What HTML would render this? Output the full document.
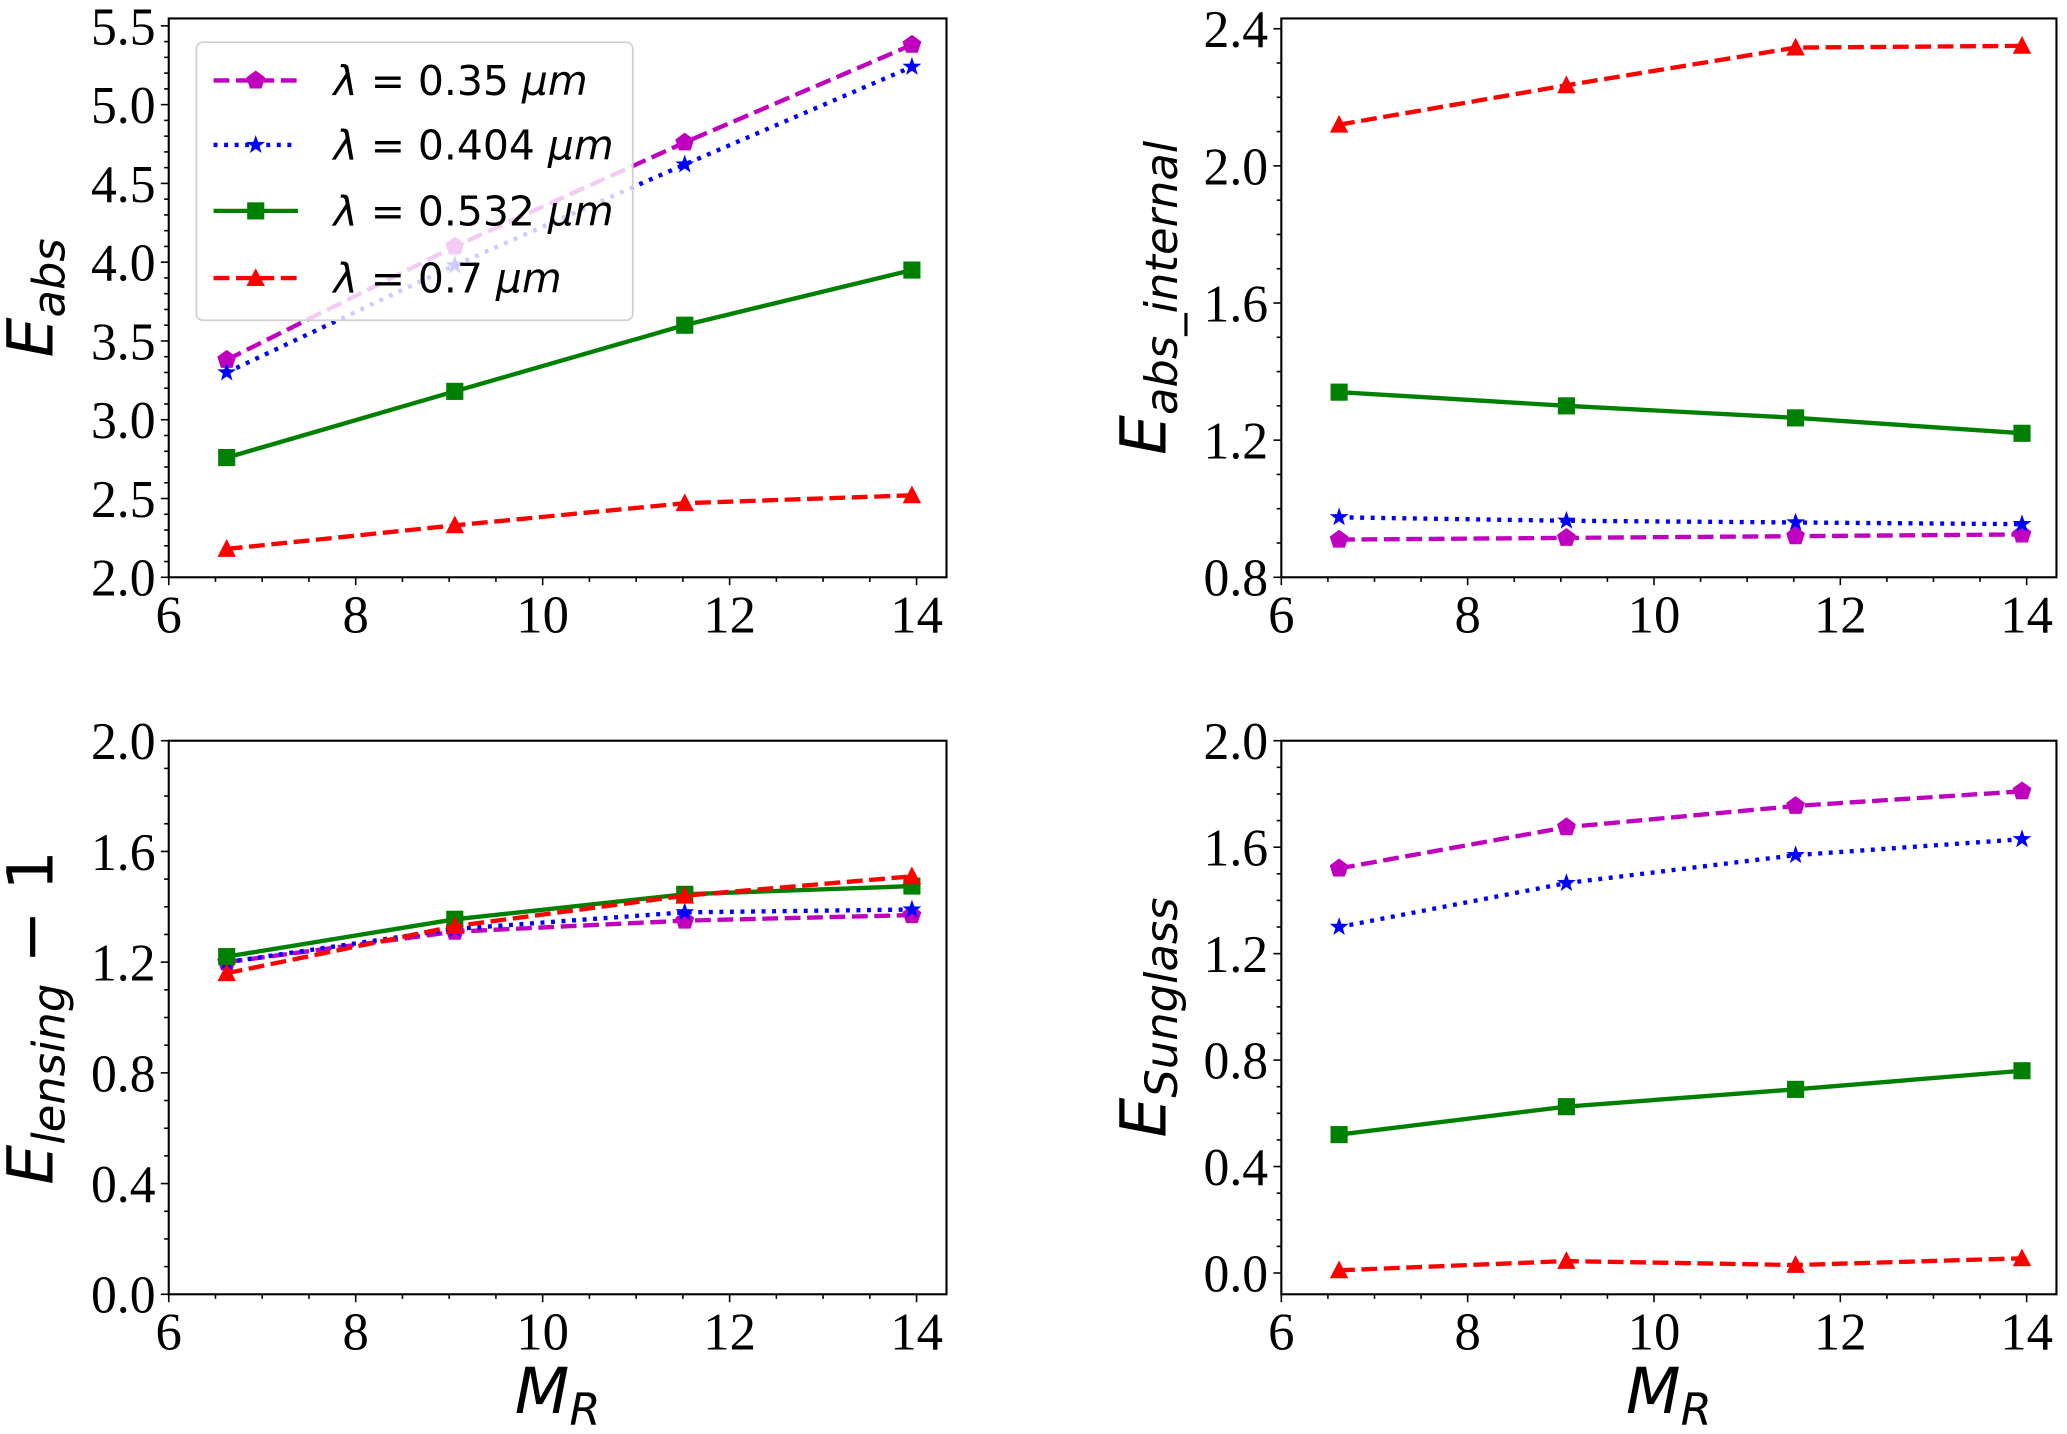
<!DOCTYPE html>
<html><head><meta charset="utf-8"><style>
html,body{margin:0;padding:0;background:#fff}
svg{display:block}
.tk{font-family:"Liberation Serif","DejaVu Serif",serif;font-size:40px;fill:#000}
.lab{font-family:"DejaVu Sans","Liberation Sans",sans-serif;font-style:italic;fill:#000}
</style></head><body>
<svg id="fig" width="2067" height="1434" viewBox="0 0 1568 1088" preserveAspectRatio="none" xmlns="http://www.w3.org/2000/svg"></svg>
<script>
const xs = [6.62, 9.06, 11.52, 13.95];
const seriesNames = ["lambda-0.35","lambda-0.404","lambda-0.532","lambda-0.7"];
const legendLabels = ["0.35","0.404","0.532","0.7"];
const absVals = [[3.38,4.1,4.76,5.38],[3.3,3.98,4.62,5.24],[2.76,3.18,3.6,3.95],[2.18,2.33,2.47,2.52]];
const absIntVals = [[0.91,0.915,0.92,0.925],[0.975,0.965,0.96,0.955],[1.34,1.30,1.265,1.22],[2.12,2.235,2.345,2.35]];
const lensVals = [[1.2,1.31,1.35,1.37],[1.2,1.32,1.38,1.39],[1.22,1.355,1.445,1.475],[1.16,1.33,1.44,1.51]];
const sunVals = [[1.52,1.675,1.755,1.81],[1.3,1.465,1.57,1.63],[0.52,0.625,0.69,0.76],[0.01,0.045,0.03,0.055]];
const xTicks = [6,8,10,12,14];
const ticksTL = ["2.0","2.5","3.0","3.5","4.0","4.5","5.0","5.5"];
const ticksTR = ["0.8","1.2","1.6","2.0","2.4"];
const ticksB = ["0.0","0.4","0.8","1.2","1.6","2.0"];

const NS="http://www.w3.org/2000/svg";
const svg=document.getElementById('fig');
function mk(tag,attrs,parent){const e=document.createElementNS(NS,tag);for(const k in attrs)e.setAttribute(k,attrs[k]);(parent||svg).appendChild(e);return e;}
const colors=["#bf00bf","#0000ff","#008000","#ff0000"];
const dashes=["12,5","3,5","none","12,5"];
function tlen(s){let w=0;for(const c of s)w+=(c==='.')?9:20;return w;}

function marker(g,i,cx,cy){
  let m;
  if(i===0){const r=7.5;let p=[];for(let k=0;k<5;k++){const a=-Math.PI/2+k*2*Math.PI/5;p.push((cx+r*Math.cos(a)).toFixed(1)+","+(cy+r*Math.sin(a)).toFixed(1));}
    m=mk('polygon',{points:p.join(' '),fill:colors[i]},g);}
  else if(i===1){let p=[];for(let k=0;k<10;k++){const r=k%2?3:7.5;const a=-Math.PI/2+k*Math.PI/5;p.push((cx+r*Math.cos(a)).toFixed(1)+","+(cy+r*Math.sin(a)).toFixed(1));}
    m=mk('polygon',{points:p.join(' '),fill:colors[i]},g);}
  else if(i===2){m=mk('rect',{x:cx-6.5,y:cy-6.5,width:13,height:13,fill:colors[i]},g);}
  else {m=mk('polygon',{points:`${cx},${cy-7.5} ${cx+7},${cy+6} ${cx-7},${cy+6}`,fill:colors[i]},g);}
  
  
}

function panel(name,L,R,T,B,ymin,ymax,yticks,ystep,vals,ylabel,xlabel){
  const g=mk('g',{});
  
  
  const xmin=6,xmax=14.32;
  const X=v=>L+(v-xmin)/(xmax-xmin)*(R-L);
  const Y=v=>B-(v-ymin)/(ymax-ymin)*(B-T);
  vals.forEach((s,i)=>{
    const sg=mk('g',{},g);
    
    
    const pts=s.map((v,j)=>X(xs[j]).toFixed(1)+","+Y(v).toFixed(1)).join(' ');
    const pl=mk('polyline',{points:pts,fill:'none',stroke:colors[i],'stroke-width':3.3,'stroke-dasharray':dashes[i]},sg);
    
    
    s.forEach((v,j)=>marker(sg,i,X(xs[j]),Y(v)));
  });
  const fr=mk('rect',{x:L,y:T,width:R-L,height:B-T,fill:'none',stroke:'#000','stroke-width':1.6},g);
  
  
  for(let v=6;v<=14.01;v+=0.5){const x=X(v);const maj=Math.abs(v-Math.round(v/2)*2)<0.01;
    mk('line',{x1:x,x2:x,y1:B,y2:B+(maj?6:3.5),stroke:'#000','stroke-width':1.2},g);}
  xTicks.forEach(v=>{const s=String(v);const t=mk('text',{x:X(v),y:B+42,'text-anchor':'middle',class:'tk',textLength:tlen(s),lengthAdjust:'spacingAndGlyphs'},g);t.textContent=s;
    });
  const y0=parseFloat(yticks[0]);
  for(let v=Math.ceil(ymin*10)/10;v<=ymax+1e-6;v+=0.1){const y=Y(v);
    const k=(v-y0)/ystep;const maj=Math.abs(k-Math.round(k))<0.01;
    mk('line',{x1:L,x2:L-(maj?6:3.5),y1:y,y2:y,stroke:'#000','stroke-width':1.2},g);}
  yticks.forEach(s=>{const t=mk('text',{x:L-10,y:Y(parseFloat(s))+14,'text-anchor':'end',class:'tk',textLength:tlen(s),lengthAdjust:'spacingAndGlyphs'},g);t.textContent=s;
    });
  const yl=mk('text',{transform:`translate(${L-88},${(T+B)/2}) rotate(-90)`,'text-anchor':'middle',class:'lab','font-size':48},g);
  yl.innerHTML=ylabel;
  
  
  if(xlabel){const xl=mk('text',{x:(L+R)/2,y:B+90,'text-anchor':'middle',class:'lab','font-size':48},g);
    xl.innerHTML='M<tspan font-size="34" dy="9">R</tspan>';
    
    }
  return g;
}
panel('panel-e-abs',128,718,14,438,2.0,5.547,ticksTL,0.5,absVals,'E<tspan font-size="34" dy="9">abs</tspan>',false);
panel('panel-e-abs-internal',972,1560,14,438,0.8,2.43,ticksTR,0.4,absIntVals,'E<tspan font-size="34" dy="9">abs_internal</tspan>',false);
panel('panel-e-lensing',128,718,562,982,0.0,2.0,ticksB,0.4,lensVals,'E<tspan font-size="34" dy="9">lensing</tspan><tspan dy="-9" style="font-style:normal"> − 1</tspan>',true);
panel('panel-e-sunglass',972,1560,562,982,-0.08,2.0,ticksB,0.4,sunVals,'E<tspan font-size="34" dy="9">Sunglass</tspan>',true);

const lg=mk('g',{});


mk('rect',{x:149,y:32,width:331,height:211,rx:5,fill:'#fff','fill-opacity':0.8,stroke:'#d0d0d0','stroke-width':1.3},lg);
const ly=[61,110,160,211];
legendLabels.forEach((s,i)=>{
  const e=mk('g',{},lg);
  
  
  mk('line',{x1:162,x2:226,y1:ly[i],y2:ly[i],stroke:colors[i],'stroke-width':3.3,'stroke-dasharray':dashes[i]},e);
  marker(e,i,194,ly[i]);
  const t=mk('text',{x:253,y:ly[i]+11,class:'lab','font-size':31,style:'font-style:normal'},e);
  t.innerHTML='<tspan style="font-style:italic">λ</tspan> = '+s+' <tspan style="font-style:italic">μm</tspan>';
});
</script>
</body></html>
